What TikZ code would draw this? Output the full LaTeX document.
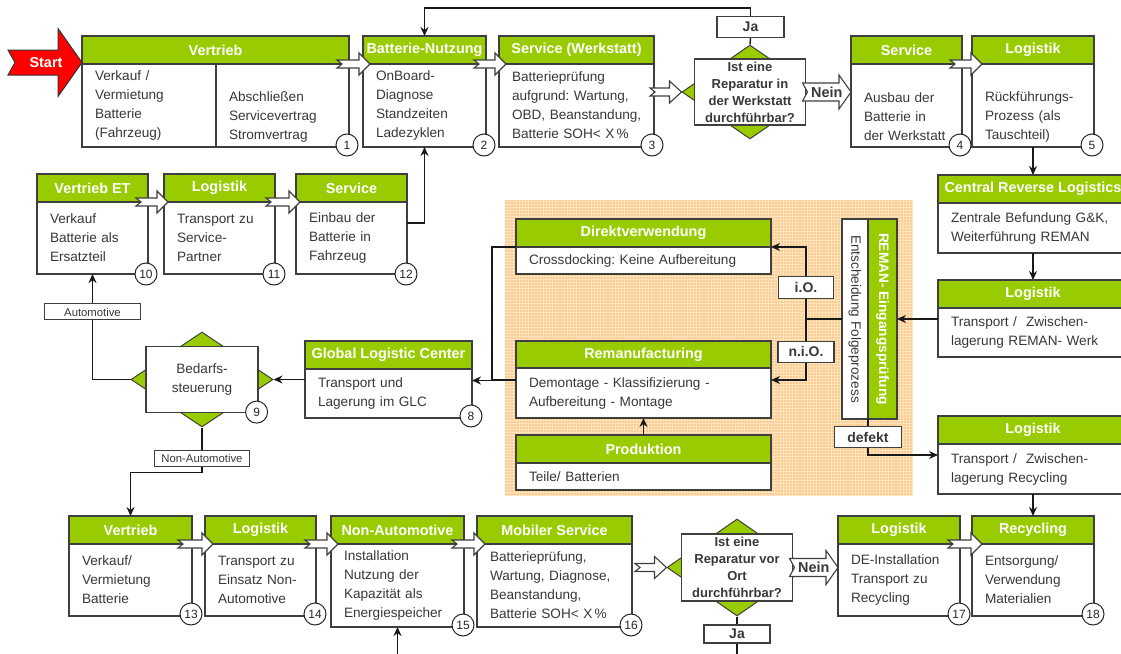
\documentclass[tikz,border=0pt]{standalone}
\usepackage{fontspec}
\setsansfont{Liberation Sans}
\usepackage{xcolor}
\usepackage{tikz}
\usetikzlibrary{arrows.meta,positioning,shapes.geometric,calc}
\definecolor{hdgreen}{HTML}{99CC00}
\definecolor{boxline}{HTML}{3F3F3F}
\definecolor{txtgrey}{HTML}{383838}
\definecolor{bgorange}{HTML}{FCCB8E}
\definecolor{bggrid}{HTML}{FFE2BE}
\definecolor{startred}{HTML}{FF0000}
\newcommand{\hdfont}{\fontsize{14.4}{17}\selectfont\sffamily\bfseries}
\newcommand{\bxfont}{\fontsize{13.6}{19}\selectfont\sffamily\frenchspacing\hyphenpenalty=10000\relax}
\newcommand{\qfont}{\fontsize{13}{17}\selectfont\sffamily\bfseries}
\newcommand{\lblfont}{\fontsize{14}{16}\selectfont\sffamily\bfseries}
\newcommand{\smfont}{\fontsize{11.3}{13}\selectfont\sffamily}
\newcommand{\numfont}{\fontsize{12}{14}\selectfont\sffamily}
\newcommand{\remfont}{\fontsize{13.7}{16}\selectfont\sffamily\bfseries}
\newcommand{\blk}[7][5]{%
  \draw[#2] let \p1=#6, \p2=#7 in
    (\x1,\y1+#3pt) -- (\x2-#5pt,\y1+#3pt) -- (\x2-#5pt,\y1+#4pt) -- (\x2,\y1)
    -- (\x2-#5pt,\y1-#4pt) -- (\x2-#5pt,\y1-#3pt) -- (\x1,\y1-#3pt)
    -- (\x1+#1pt,\y1) -- cycle;}
\tikzset{
  hd/.style={rectangle, draw=boxline, line width=1.2pt, fill=hdgreen, text=white,
    font=\hdfont, minimum height=28pt, inner sep=0pt, outer sep=0pt},
  bx/.style={rectangle, draw=boxline, line width=1.2pt, fill=white, text=txtgrey,
    font=\bxfont, align=left, inner xsep=13pt, inner ysep=0pt, outer sep=0pt},
  num/.style={circle, draw=black!85, line width=1pt, fill=white, minimum size=22pt,
    inner sep=0pt, font=\numfont, text=black!85},
  dia/.style={diamond, draw=boxline, line width=1pt, fill=hdgreen, inner sep=0pt},
  qbox/.style={rectangle, draw=boxline, line width=1.2pt, fill=white, text=txtgrey,
    font=\qfont, align=center, inner sep=0pt},
  lbl/.style={rectangle, draw=boxline, line width=1.2pt, fill=white, text=txtgrey,
    font=\lblfont, inner sep=0pt},
  slbl/.style={rectangle, draw=boxline, line width=1pt, fill=white, text=txtgrey,
    font=\smfont, inner sep=0pt},
  nein/.style={font=\hdfont, text=txtgrey, inner sep=0pt},
  ln/.style={draw=black!90, line width=1.4pt},
  arr/.style={ln, -{Stealth[length=9pt,width=8pt]}},
  barr/.style={draw=boxline, line width=1.1pt, fill=white, line join=miter},
  sarr/.style={draw=black!80, line width=1pt, fill=startred, line join=miter},
}
\begin{document}
\begin{tikzpicture}[x=1pt, y=-1pt]
  \useasboundingbox (0,0) rectangle (1121,653);
  \fill[bgorange] (505,200) rectangle (912,495);
  \draw[bggrid, line width=0.6pt, step=3pt] (505,495) grid (912,200);

  \node[hd, minimum width=267pt] (vt-h) at (215.5,50) {Vertrieb};
  \node[bx, text width=108pt, minimum height=83pt, anchor=north west] (vtl) at (vt-h.south west) {Verkauf /\\Vermietung\\Batterie\\(Fahrzeug)};
  \node[bx, text width=107pt, minimum height=83pt, anchor=north east] (vtr) at (vt-h.south east) {\strut\\Abschließen\\Servicevertrag\\Stromvertrag};
  \node[hd, minimum width=123pt] (bn-h) at (424.5,50) {Batterie-Nutzung};
  \node[bx, text width=97pt, minimum height=83pt, below=0pt of bn-h] (bn) {OnBoard-\\Diagnose\\Standzeiten\\Ladezyklen};
  \node[hd, minimum width=155pt] (sw-h) at (576.5,50) {Service (Werkstatt)};
  \node[bx, text width=129pt, minimum height=83pt, below=0pt of sw-h] (sw) {Batterieprüfung\\aufgrund: Wartung,\\OBD,~Beanstandung,\\Batterie SOH< X\,\%};
  \node[hd, minimum width=111pt] (sv-h) at (906.5,50) {Service};
  \node[bx, text width=85pt, minimum height=83pt, below=0pt of sv-h] (sv) {\strut\\Ausbau der\\Batterie in\\der~Werkstatt};
  \node[hd, minimum width=122pt] (lg-h) at (1033,50) {Logistik};
  \node[bx, text width=96pt, minimum height=83pt, below=0pt of lg-h] (lg) {\strut\\Rückführungs-\\Prozess (als\\Tauschteil)};
  \node[dia, minimum width=136pt, minimum height=94pt] (dm1) at (750,92) {};
  \node[qbox, minimum width=111pt, minimum height=66pt] (q1) at (dm1) {Ist eine\\Reparatur in\\der Werkstatt\\durchführbar?};
  \node[lbl, minimum width=67pt, minimum height=21pt] (ja1) at (750.5,27) {Ja};

  \node[hd, minimum width=111pt] (ve-h) at (92.5,188) {Vertrieb ET};
  \node[bx, text width=85pt, minimum height=72pt, below=0pt of ve-h] (ve) {Verkauf\\Batterie als\\Ersatzteil};
  \node[hd, minimum width=111pt] (lt-h) at (219.5,188) {Logistik};
  \node[bx, text width=85pt, minimum height=72pt, below=0pt of lt-h] (lt) {Transport zu\\Service-\\Partner};
  \node[hd, minimum width=111pt] (se-h) at (351.5,188) {Service};
  \node[bx, text width=85pt, minimum height=72pt, below=0pt of se-h] (se) {Einbau der\\Batterie in\\Fahrzeug};

  \node[hd, minimum width=190pt] (crl-h) at (1033,189) {Central Reverse Logistics};
  \node[bx, text width=164pt, minimum height=50pt, below=0pt of crl-h] (crl) {Zentrale Befundung G\&K,\\Weiterführung REMAN};
  \node[hd, minimum width=190pt] (lgr-h) at (1033,294) {Logistik};
  \node[bx, text width=164pt, minimum height=49pt, below=0pt of lgr-h] (lgr) {Transport /\ \ Zwischen-\\lagerung REMAN- Werk};
  \node[hd, minimum width=190pt] (lgc-h) at (1033,430) {Logistik};
  \node[bx, text width=164pt, minimum height=50pt, below=0pt of lgc-h] (lgc) {Transport /\ \ Zwischen-\\lagerung Recycling};

  \node[hd, minimum width=255pt] (dv-h) at (643.5,233) {Direktverwendung};
  \node[bx, text width=229pt, minimum height=27pt, below=0pt of dv-h] (dv) {Crossdocking: Keine Aufbereitung};
  \node[hd, minimum width=255pt, minimum height=27pt] (rm-h) at (643.5,354.5) {Remanufacturing};
  \node[bx, text width=229pt, minimum height=50pt, below=0pt of rm-h] (rm) {Demontage - Klassifizierung -\\Aufbereitung - Montage};
  \node[hd, minimum width=255pt] (pr-h) at (643.5,449) {Produktion};
  \node[bx, text width=229pt, minimum height=27pt, below=0pt of pr-h] (pr) {Teile/ Batterien};
  \node[bx, inner xsep=0pt, minimum width=26pt, minimum height=200pt] (ent) at (855,319) {\rotatebox{-90}{Entscheidung Folgeprozess}};
  \node[hd, font=\remfont, minimum width=29pt, minimum height=200pt] (reman) at (882.5,319) {\rotatebox{-90}{REMAN- Eingangsprüfung}};

  \node[hd, minimum width=167pt] (glc-h) at (388.5,355) {Global Logistic Center};
  \node[bx, text width=141pt, minimum height=49pt, below=0pt of glc-h] (glc) {Transport und\\Lagerung im GLC};
  \node[dia, minimum width=142pt, minimum height=95pt] (bd) at (202,379.5) {};
  \node[qbox, font=\bxfont, minimum width=112pt, minimum height=66pt] (bdq) at (bd) {Bedarfs-\\steuerung};

  \node[hd, minimum width=123pt] (v13-h) at (130.5,530) {Vertrieb};
  \node[bx, text width=97pt, minimum height=72pt, below=0pt of v13-h] (v13) {Verkauf/\\Vermietung\\Batterie};
  \node[hd, minimum width=111pt] (l14-h) at (260.5,530) {Logistik};
  \node[bx, text width=85pt, minimum height=72pt, below=0pt of l14-h] (l14) {Transport zu\\Einsatz Non-\\Automotive};
  \node[hd, minimum width=133pt] (na-h) at (397.5,530) {Non-Automotive};
  \node[bx, text width=107pt, minimum height=83pt, below=0pt of na-h] (na) {Installation\\Nutzung der\\Kapazität als\\Energiespeicher};
  \node[hd, minimum width=155pt] (ms-h) at (554.5,530) {Mobiler Service};
  \node[bx, text width=129pt, minimum height=83pt, below=0pt of ms-h] (ms) {Batterieprüfung,\\Wartung, Diagnose,\\Beanstandung,\\Batterie SOH< X\,\%};
  \node[dia, minimum width=140pt, minimum height=97pt] (dm2) at (737,567.5) {};
  \node[qbox, minimum width=111pt, minimum height=67pt] (q2) at (dm2) {Ist eine\\Reparatur vor\\Ort\\durchführbar?};
  \node[lbl, minimum width=66pt, minimum height=18pt] (ja2) at (737,634) {Ja};
  \node[hd, minimum width=122pt] (l17-h) at (899,530) {Logistik};
  \node[bx, text width=96pt, minimum height=72pt, below=0pt of l17-h] (l17) {DE-Installation\\Transport zu\\Recycling};
  \node[hd, minimum width=122pt] (rc-h) at (1033,530) {Recycling};
  \node[bx, text width=96pt, minimum height=72pt, below=0pt of rc-h] (rc) {Entsorgung/\\Verwendung\\Materialien};

  \draw[ln] (dm1.north) -- (ja1.south);
  \draw[arr] (ja1.north) -- ++(0,-8) -| (bn-h.north);
  \draw[arr] ([yshift=15pt]se.east) -| (bn.south);
  \draw[arr] (lg.south) -- (crl-h.north);
  \draw[arr] (crl.south) -- (lgr-h.north);
  \draw[arr] (reman.east -| lgr.west) -- (reman.east);
  \coordinate (split) at ($(ent.west)+(-36,0)$);
  \draw[ln] (ent.west) -- (split);
  \draw[arr] (split) |- node[lbl, pos=0.22, minimum width=55pt, minimum height=22pt] (io) {i.O.} (dv-h.south east);
  \draw[arr] (split) |- node[lbl, pos=0.27, minimum width=56pt, minimum height=21pt] (nio) {n.i.O.} ([yshift=13pt]rm.east);
  \draw[arr] (reman.south west) |- node[lbl, pos=0.25, minimum width=67pt, minimum height=21pt] (dfk) {defekt} ([yshift=14pt]lgc.west);
  \draw[arr] (lgc.south) -- (rc-h.north);
  \draw[arr] (pr-h.north) -- (rm.south);
  \draw[arr] (dv-h.south west) -- ++(-24,0) |- ([yshift=13pt]glc.east);
  \draw[ln] ([yshift=13pt]rm.west) -- ++(-24,0);
  \draw[arr] (bd.east -| glc.west) -- (bd.east);
  \draw[arr] (bd.west) -| node[slbl, pos=0.82, minimum width=96pt, minimum height=16pt] (auto) {Automotive} (ve.south);
  \draw[arr] (bd.south) -- node[slbl, pos=0.69, minimum width=95pt, minimum height=16pt] (nauto) {Non-Automotive} ++(0,45) -| (v13-h.north);
  \draw[ln] (dm2.south) -- (ja2.north);
  \coordinate (jaend) at (737,660);
  \draw[ln] (ja2.south) -- (jaend);
  \coordinate (feed) at (397.5,660);
  \draw[arr] (feed) -- (na.south);

  \coordinate (st0) at (8,62.5);
  \blk[7]{sarr}{12.5}{34}{24}{(st0)}{(st0 -| vt-h.west)}
  \node[font=\hdfont, text=white] (start) at (46,62.5) {Start};
  \blk{barr}{4}{11}{11}{([xshift=-12pt]vtr.north east)}{([xshift=7pt]bn.north west)}
  \blk{barr}{4}{11}{11}{([xshift=-12pt]bn.north east)}{([xshift=7pt]sw.north west)}
  \blk{barr}{4}{11}{12}{($(sw.east |- dm1.west)+(-4,0)$)}{(dm1.west)}
  \blk{barr}{4}{11}{11}{([xshift=-12pt]sv.north east)}{([xshift=10pt]lg.north west)}
  \coordinate (n1a) at ($(dm1.east)+(-16,0)$);
  \coordinate (n1b) at (dm1.east -| sv.west);
  \blk{barr}{9}{17}{12}{(n1a)}{(n1b)}
  \node[nein] (nein1) at ($(n1a)!0.5!(n1b)$) {Nein};
  \blk{barr}{4}{11}{11}{([xshift=-12pt]ve.north east)}{([xshift=4pt]lt.north west)}
  \blk{barr}{4}{11}{11}{([xshift=-9pt]lt.north east)}{([xshift=4pt]se.north west)}
  \blk{barr}{4}{11}{11}{([xshift=-14pt]v13.north east)}{([xshift=8pt]l14.north west)}
  \blk{barr}{4}{11}{11}{([xshift=-11pt]l14.north east)}{([xshift=7pt]na.north west)}
  \blk{barr}{4}{11}{11}{([xshift=-12pt]na.north east)}{([xshift=8pt]ms.north west)}
  \blk{barr}{4}{11}{12}{($(ms.east |- dm2.west)+(3,0)$)}{(dm2.west)}
  \coordinate (n2a) at ($(dm2.east)+(-18,0)$);
  \coordinate (n2b) at (dm2.east -| l17.west);
  \blk{barr}{9}{17}{12}{(n2a)}{(n2b)}
  \node[nein] (nein2) at ($(n2a)!0.5!(n2b)$) {Nein};
  \blk{barr}{4}{11}{11}{([xshift=-12pt]l17.north east)}{([xshift=10pt]rc.north west)}

  \node[num] (c1) at ($(vtr.south east)+(-2,-2)$) {1};
  \node[num] (c2) at ($(bn.south east)+(-2,-2)$) {2};
  \node[num] (c3) at ($(sw.south east)+(-2,-2)$) {3};
  \node[num] (c4) at ($(sv.south east)+(-2,-2)$) {4};
  \node[num] (c5) at ($(lg.south east)+(-2,-2)$) {5};
  \node[num] (c8) at ($(glc.south east)+(-1,-2)$) {8};
  \node[num] (c9) at ($(bdq.south east)+(-2,-1)$) {9};
  \node[num] (c10) at ($(ve.south east)+(-2,0)$) {10};
  \node[num] (c11) at ($(lt.south east)+(-1,0)$) {11};
  \node[num] (c12) at ($(se.south east)+(-1,0)$) {12};
  \node[num] (c13) at ($(v13.south east)+(-1,-2)$) {13};
  \node[num] (c14) at ($(l14.south east)+(-1,-2)$) {14};
  \node[num] (c15) at ($(na.south east)+(-1,-2)$) {15};
  \node[num] (c16) at ($(ms.south east)+(-1,-2)$) {16};
  \node[num] (c17) at ($(l17.south east)+(-1,-2)$) {17};
  \node[num] (c18) at ($(rc.south east)+(-1,-2)$) {18};
\end{tikzpicture}
\end{document}
